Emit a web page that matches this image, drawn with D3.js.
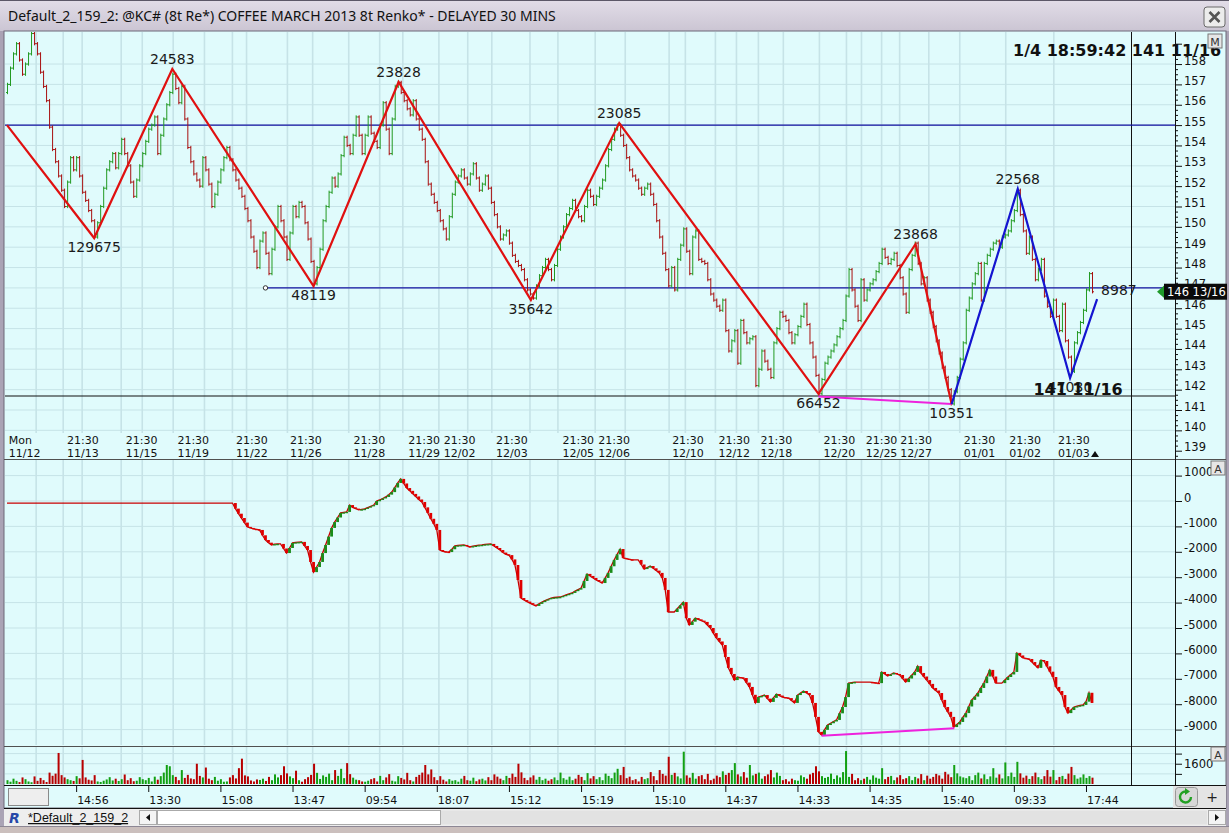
<!DOCTYPE html>
<html>
<head>
<meta charset="utf-8">
<script src="https://cdn.jsdelivr.net/npm/d3@7"></script>
<style>
body{margin:0;background:#cfc6c4;overflow:hidden;}
svg{display:block;}
</style>
</head>
<body>
<div id="chart"></div>
<script>
// ---- data ----
const closes = [
157.0,157.8,158.5,159.0,158.2,157.5,158.0,158.5,159.5,159.0,
158.5,157.6,156.9,156.2,154.9,153.8,153.2,152.5,151.8,151.0,
152.2,153.4,152.8,153.4,152.5,151.7,151.3,150.8,150.3,149.5,
150.2,151.0,151.9,152.8,153.2,153.6,152.9,153.6,154.3,153.6,
153.0,152.2,151.5,152.3,153.0,153.6,154.2,154.8,155.0,155.4,
153.6,154.5,155.3,156.0,156.6,157.5,156.8,156.1,156.9,155.3,
153.9,153.2,152.6,152.3,152.0,153.4,152.8,152.1,151.0,151.6,
152.2,152.8,153.4,153.9,153.3,152.8,152.3,151.9,151.5,150.9,
150.3,149.5,148.8,148.0,149.3,149.7,148.7,147.7,148.9,150.0,
151.0,150.3,149.5,148.4,149.7,151.0,150.5,151.2,151.0,150.2,
149.4,148.3,147.2,148.0,148.9,150.3,151.0,151.7,152.4,152.0,
152.6,153.5,154.4,154.0,153.6,154.5,155.4,154.5,153.6,154.5,
155.4,154.6,154.2,153.9,155.0,156.1,154.8,153.6,155.3,156.9,
157.1,156.6,156.2,155.8,155.5,156.2,155.3,154.8,154.3,153.2,
152.1,151.6,151.2,150.8,150.3,149.9,149.4,150.5,151.6,152.2,
152.5,152.8,152.4,152.1,152.6,153.1,152.4,151.8,152.1,152.5,
151.9,151.2,150.6,150.0,149.4,149.6,149.8,149.2,148.6,148.3,
148.1,147.9,147.4,146.9,146.7,146.5,147.1,147.6,148.0,148.4,
147.9,147.4,148.1,148.9,149.5,150.0,150.6,150.9,151.3,150.8,
150.5,150.3,151.0,151.8,151.5,151.1,151.5,151.9,152.3,153.0,
153.8,154.3,154.8,155.0,154.5,154.0,153.4,152.8,152.5,152.3,
151.9,151.6,151.9,152.1,151.6,151.1,150.3,149.5,148.7,147.9,
147.1,148.0,146.9,148.4,149.1,149.9,148.8,147.7,149.5,149.8,
148.4,148.3,148.2,147.4,146.7,146.4,146.1,145.9,146.4,144.9,
143.9,144.4,144.9,143.3,145.4,144.8,144.3,144.5,144.6,142.2,
143.0,143.9,143.4,143.0,142.6,144.3,145.0,145.8,145.6,145.4,
144.8,144.3,144.7,145.1,145.6,146.2,145.2,144.3,143.6,142.7,
141.8,142.5,143.3,143.6,143.9,144.2,144.6,145.0,145.4,146.6,
147.9,146.9,146.1,145.4,147.4,146.4,146.9,147.2,147.4,147.8,
148.2,148.9,148.5,148.2,148.4,148.7,148.1,147.5,146.7,145.8,
147.9,148.6,149.2,148.2,147.2,147.5,146.4,145.8,145.1,144.4,
143.8,143.1,142.6,142.0,141.3,141.9,142.6,143.5,144.3,145.9,
146.5,147.2,147.7,148.2,146.4,148.2,148.6,148.9,149.2,149.3,
149.0,149.5,149.6,149.8,150.3,150.8,151.8,150.6,149.8,148.7,
149.5,148.4,147.4,147.9,148.4,146.6,146.1,145.6,146.4,145.6,
144.9,146.2,144.4,143.6,142.9,144.3,144.8,145.3,145.9,146.9,
147.7,146.81
];

const delta = [
-80,-80,-80,-80,-80,-80,-80,-80,-80,-80,
-80,-80,-80,-80,-80,-80,-80,-80,-80,-80,
-80,-80,-80,-80,-80,-80,-80,-80,-80,-80,
-80,-80,-80,-80,-80,-80,-80,-80,-80,-80,
-80,-80,-80,-80,-80,-80,-80,-80,-80,-80,
-80,-80,-80,-80,-80,-80,-80,-80,-80,-80,
-80,-80,-80,-80,-80,-80,-80,-80,-80,-80,
-80,-80,-80,-80,-80,-80,-300,-500,-670,-850,
-1020,-1060,-1100,-1120,-1140,-1350,-1535,-1640,-1730,-1700,
-1690,-1690,-1870,-2050,-1850,-1650,-1630,-1620,-1610,-1770,
-1930,-2400,-2800,-2600,-2400,-2050,-1730,-1400,-1060,-830,
-650,-470,-450,-430,-160,-250,-300,-350,-330,-310,
-260,-210,-160,0,40,100,160,250,350,530,
710,870,690,510,400,280,180,60,-40,-250,
-470,-700,-900,-1140,-1930,-1980,-2000,-2010,-1900,-1770,
-1750,-1740,-1730,-1770,-1810,-1780,-1760,-1740,-1730,-1710,
-1700,-1690,-1770,-1850,-1930,-2030,-2100,-2130,-2300,-2520,
-3110,-3820,-3900,-3960,-4020,-4080,-4130,-4050,-3980,-3920,
-3870,-3820,-3800,-3790,-3780,-3740,-3700,-3660,-3620,-3550,
-3490,-3430,-3150,-2870,-2950,-3030,-3110,-3170,-3230,-3030,
-2830,-2570,-2320,-2100,-1890,-2240,-2270,-2300,-2320,-2320,
-2320,-2500,-2680,-2620,-2560,-2650,-2740,-2830,-3030,-3500,
-4370,-4370,-4370,-4240,-4110,-3980,-4610,-4880,-4750,-4610,
-4660,-4710,-4760,-4880,-5000,-5200,-5390,-5530,-5670,-6140,
-6570,-6810,-7050,-6930,-6950,-6970,-7150,-7320,-7630,-7950,
-7720,-7680,-7640,-7780,-7910,-7750,-7600,-7660,-7720,-7740,
-7760,-7850,-7950,-7640,-7560,-7480,-7560,-7640,-7950,-8500,
-9090,-9210,-9010,-8820,-8750,-8680,-8620,-8360,-8110,-7720,
-7170,-7150,-7130,-7130,-7130,-7130,-7130,-7130,-7140,-7160,
-7170,-6730,-6810,-6890,-6830,-6770,-6810,-6850,-6990,-7130,
-6990,-6860,-6730,-6500,-6770,-6910,-7050,-7200,-7360,-7460,
-7560,-7830,-8110,-8300,-8500,-8900,-8800,-8700,-8520,-8350,
-8090,-7830,-7700,-7560,-7360,-7170,-6910,-6650,-6910,-7170,
-7170,-7170,-7050,-6930,-6830,-6730,-5980,-6080,-6180,-6200,
-6220,-6340,-6460,-6570,-6260,-6300,-6510,-6720,-6930,-7320,
-7480,-7640,-8110,-8350,-8230,-8110,-8080,-8050,-8030,-7900,
-7550,-7950
];

const volume = [
300,180,420,250,150,520,380,200,140,600,
250,480,300,160,900,650,820,2450,700,520,
380,300,240,620,450,1900,520,340,280,700,
200,160,260,360,540,280,420,240,380,750,
300,460,220,260,540,380,300,480,200,580,
340,620,900,1500,1400,700,560,300,1100,480,
720,440,380,1600,640,520,1300,420,300,560,
260,380,180,200,520,700,440,1250,2000,680,
600,280,200,360,320,420,240,560,300,760,
520,700,1400,840,600,460,1050,300,180,380,
540,720,1600,880,400,680,560,820,300,1100,
640,1200,460,1650,780,500,340,300,200,180,
260,380,460,200,640,300,520,780,260,200,
620,480,360,880,300,200,560,720,900,1500,
760,1150,540,300,620,340,200,380,260,300,
180,420,640,300,260,500,220,360,420,280,
540,300,760,580,420,300,640,480,820,560,
1600,920,480,300,520,680,340,560,300,420,
260,380,520,300,900,460,340,580,300,420,
720,560,300,860,440,620,380,540,300,820,
640,460,900,1200,700,1350,460,580,300,380,
200,560,380,460,940,620,300,1100,800,660,
2150,720,880,600,440,2550,680,500,880,420,
620,700,380,800,300,420,660,540,1000,720,
880,1100,1650,760,600,940,500,1500,680,800,
900,420,620,760,1100,520,900,640,300,380,
200,420,300,260,680,540,420,760,880,1400,
1000,620,480,560,820,400,680,520,940,2600,
560,800,300,460,300,420,560,340,680,500,
420,1250,380,560,640,300,520,700,380,460,
620,300,560,440,780,300,660,420,560,800,
680,420,960,760,540,1500,840,600,520,460,
620,300,700,900,440,760,380,600,1250,500,
760,440,1700,620,900,560,1750,840,500,660,
400,620,900,540,380,620,1100,580,1100,300,
560,640,400,820,1350,700,420,520,760,480,
620,500
];

// swing lines (bar index, price, label)
const zigIdx   = [0, 29, 55, 102, 130.3, 174.3, 203.7, 270, 302.3, 314.3];
const zigPrice = [155.0, 149.45, 157.76, 147.09, 157.12, 146.41, 155.10, 141.79, 149.16, 141.29];
const zigText  = ["", "129675", "24583", "48119", "23828", "35642", "23085", "66452", "23868", "10351"];
const blueIdx   = [314.3, 336.3, 353.7, 362.7];
const bluePrice = [141.29, 151.86, 142.57, 146.45];
const blueText  = ["", "22568", "47030", "8987"];

// divergence lines
const divPriceIdx = [270, 314.3];
const divPrice    = [141.66, 141.29];
const divDeltaIdx = [271, 315.2];
const divDelta    = [-9240, -8950];

// horizontal levels
const levelTop = 155.0;
const levelMid = 147.0;
const levelMidStart = 86;
const levelLow = 141 + 11 / 16;
const lastPrice = 146 + 13 / 16;

// axes
const priceTicks = [139,140,141,142,143,144,145,146,147,148,149,150,151,152,153,154,155,156,157,158];
const deltaTicks = [1000,0,-1000,-2000,-3000,-4000,-5000,-6000,-7000,-8000,-9000];
const volumeTicks = [800, 1600, 2400];
const volumeLabels = [1600];

const dateIdx = [0.6, 20, 39.5, 56.7, 76.2, 94.2, 115.3, 133.5, 145.3, 162.7, 184.8, 196.7,
                 221.3, 236.7, 250.7, 271.7, 285.7, 297.2, 318.3, 333.5, 349.7];
const dateTop = ["Mon","21:30","21:30","21:30","21:30","21:30","21:30","21:30","21:30","21:30","21:30","21:30",
                 "21:30","21:30","21:30","21:30","21:30","21:30","21:30","21:30","21:30"];
const dateBottom = ["11/12","11/13","11/15","11/19","11/22","11/26","11/28","11/29","12/02","12/03","12/05","12/06",
                    "12/10","12/12","12/18","12/20","12/25","12/27","01/01","01/02","01/03"];

const timeIdx = [23,47,71,95,119,143,167,191,215,239,263,287,311,335,359];
const timeText = ["14:56","13:30","15:08","13:47","09:54","18:07","15:12","15:19","15:10","14:37","14:33","14:35","15:40","09:33","17:44"];

const gridIdx = [9.7,18.7,25,38,45,55.3,65.7,75,79.7,93.3,101.7,113.7,124,131.7,143.7,153.3,161.3,174,183.3,
                 195.7,205.7,220.3,225.7,235.7,242.7,250,258.3,270.3,279.3,284.3,291,297,306.7,317,332.3,348.3];

const titleText = "Default_2_159_2: @KC# (8t Re*) COFFEE MARCH 2013 8t Renko* - DELAYED 30 MINS";
const clockText = "1/4 18:59:42 141 11/16";

class RenkoChart {
	constructor(id){
		this.W = 1229;
		this.H = 833;
		this.bg = "#e0fbfc";
		this.grid = "#c6e3e7";
		this.up = "#229a22";
		this.down = "#a81010";
		this.font = "'DejaVu Sans', sans-serif";

		this.svg = d3.select("#" + id).append("svg")
			.attr("width", this.W).attr("height", this.H);

		this.axisX = 1175;
		this.x = d3.scaleLinear().domain([0, 361]).range([7, 1092]);
		this.yP = d3.scaleLinear().domain([141, 158]).range([410, 64.05]);
		this.yD = d3.scaleLinear().domain([0, -9000]).range([501, 729.6]);
		this.yV = d3.scaleLinear().domain([0, 3000]).range([784, 746]);

		this.drawFrame();
		this.drawGrid();
		this.drawPricePanel();
		this.drawDeltaPanel();
		this.drawVolumePanel();
		this.drawAxes();
		this.drawStatus();
	}

	drawFrame(){
		const defs = this.svg.append("defs");
		const tg = defs.append("linearGradient").attr("id", "tg").attr("x1", 0).attr("y1", 0).attr("x2", 0).attr("y2", 1);
		tg.append("stop").attr("offset", "0%").attr("stop-color", "#e2dde8");
		tg.append("stop").attr("offset", "100%").attr("stop-color", "#cbc5d3");

		defs.append("clipPath").attr("id", "clipP").append("rect")
			.attr("x", 5).attr("y", 32).attr("width", this.axisX - 5).attr("height", 427);
		defs.append("clipPath").attr("id", "clipD").append("rect")
			.attr("x", 5).attr("y", 460).attr("width", this.axisX - 5).attr("height", 285);

		this.svg.append("rect").attr("width", this.W).attr("height", 828).attr("fill", "#aaa3b5");
		this.svg.append("rect").attr("x", 0).attr("y", 0).attr("width", this.W).attr("height", 31).attr("fill", "url(#tg)");
		this.svg.append("line").attr("x1", 0).attr("x2", this.W).attr("y1", 0.5).attr("y2", 0.5).attr("stroke", "#5c5868");

		this.svg.append("text")
			.attr("x", 8).attr("y", 21)
			.style("font-family", "'Noto Sans', sans-serif").style("font-size", "14px").attr("fill", "#111")
			.text(titleText);

		// close button
		const cb = this.svg.append("g");
		cb.append("rect").attr("x", 1204).attr("y", 7).attr("width", 21).attr("height", 20).attr("rx", 3)
			.attr("fill", "#ececec").attr("stroke", "#6a6a6a");
		cb.append("path").attr("d", "M1209.5,12 L1219.5,22 M1219.5,12 L1209.5,22")
			.attr("stroke", "#555").attr("stroke-width", 2.6);

		// chart body
		this.svg.append("rect").attr("x", 4).attr("y", 31).attr("width", 1222).attr("height", 777)
			.attr("fill", this.bg).attr("stroke", "#6d6878");
	}

	drawGrid(){
		const g = this.svg.append("g");
		const x = this.x;
		// vertical grid in three bands
		[[32, 433], [460, 745], [747, 784]].forEach(([a, b]) => {
			g.selectAll(null).data(gridIdx).join("line")
				.attr("x1", d => x(d)).attr("x2", d => x(d))
				.attr("y1", a).attr("y2", b)
				.attr("stroke", this.grid).attr("stroke-width", 1.6);
		});
		g.selectAll(null).data(priceTicks.filter(p => p >= 140)).join("line")
			.attr("x1", 5).attr("x2", this.axisX)
			.attr("y1", d => this.yP(d)).attr("y2", d => this.yP(d))
			.attr("stroke", this.grid);
		g.selectAll(null).data(deltaTicks).join("line")
			.attr("x1", 5).attr("x2", this.axisX)
			.attr("y1", d => this.yD(d)).attr("y2", d => this.yD(d))
			.attr("stroke", this.grid);
		g.selectAll(null).data(volumeTicks).join("line")
			.attr("x1", 5).attr("x2", this.axisX)
			.attr("y1", d => this.yV(d)).attr("y2", d => this.yV(d))
			.attr("stroke", this.grid);

		// panel separators
		const sep = [[459, "#505050"], [746, "#505050"], [785, "#111"], [808, "#111"]];
		sep.forEach(([y, c]) => {
			this.svg.append("line").attr("x1", 4).attr("x2", 1226).attr("y1", y + 0.5).attr("y2", y + 0.5).attr("stroke", c);
		});
		this.svg.append("line").attr("x1", 1131.5).attr("x2", 1131.5).attr("y1", 32).attr("y2", 785).attr("stroke", "#111");
		this.svg.append("line").attr("x1", this.axisX + 0.5).attr("x2", this.axisX + 0.5).attr("y1", 32).attr("y2", 785).attr("stroke", "#111");
	}

	drawPricePanel(){
		const x = this.x, y = this.yP;
		const g = this.svg.append("g").attr("clip-path", "url(#clipP)");
		const open = i => i === 0 ? closes[0] - 0.4 : closes[i - 1];
		const col = (d, i) => d >= open(i) ? this.up : this.down;

		// levels
		g.append("line").attr("x1", 5).attr("x2", this.axisX).attr("y1", y(levelTop)).attr("y2", y(levelTop))
			.attr("stroke", "#1010a0").attr("stroke-width", 1.2);
		g.append("line").attr("x1", x(levelMidStart)).attr("x2", this.axisX).attr("y1", y(levelMid)).attr("y2", y(levelMid))
			.attr("stroke", "#1010a0").attr("stroke-width", 1.2);
		g.append("line").attr("x1", 5).attr("x2", this.axisX).attr("y1", y(levelLow)).attr("y2", y(levelLow))
			.attr("stroke", "#111").attr("stroke-width", 1.2);
		g.append("circle").attr("cx", x(levelMidStart)).attr("cy", y(levelMid)).attr("r", 2.2)
			.attr("fill", "#fff").attr("stroke", "#333");

		// renko bars
		g.selectAll("line.bar").data(closes).join("line").attr("class", "bar")
			.attr("x1", (d, i) => x(i) + 0.5).attr("x2", (d, i) => x(i) + 0.5)
			.attr("y1", (d, i) => y(Math.max(d, open(i)) + 0.08))
			.attr("y2", (d, i) => y(Math.min(d, open(i)) - 0.08))
			.attr("stroke", col);
		g.selectAll("line.op").data(closes).join("line").attr("class", "op")
			.attr("x1", (d, i) => x(i) - 1).attr("x2", (d, i) => x(i) + 0.5)
			.attr("y1", (d, i) => y(open(i))).attr("y2", (d, i) => y(open(i)))
			.attr("stroke", col);
		g.selectAll("line.cl").data(closes).join("line").attr("class", "cl")
			.attr("x1", (d, i) => x(i) + 0.5).attr("x2", (d, i) => x(i) + 2)
			.attr("y1", d => y(d)).attr("y2", d => y(d))
			.attr("stroke", col);

		// divergence
		g.append("line")
			.attr("x1", x(divPriceIdx[0])).attr("y1", y(divPrice[0]))
			.attr("x2", x(divPriceIdx[1])).attr("y2", y(divPrice[1]))
			.attr("stroke", "#ee22dd").attr("stroke-width", 2);

		// swing lines
		const line = d3.line().x(d => x(d[0])).y(d => y(d[1]));
		g.append("path").datum(zigIdx.map((d, i) => [d, zigPrice[i]]))
			.attr("d", line).attr("fill", "none").attr("stroke", "#e01010").attr("stroke-width", 2.2);
		g.append("path").datum(blueIdx.map((d, i) => [d, bluePrice[i]]))
			.attr("d", line).attr("fill", "none").attr("stroke", "#1414d0").attr("stroke-width", 2.2);

		this.swingLabels(zigIdx, zigPrice, zigText, false);
		this.swingLabels(blueIdx, bluePrice, blueText, true);

		// date labels
		const dl = this.svg.append("g").style("font-family", this.font).style("font-size", "11px").attr("fill", "#111");
		dl.selectAll(null).data(dateIdx).join("text")
			.attr("x", d => x(d)).attr("y", 444).text((d, i) => dateTop[i]);
		dl.selectAll(null).data(dateIdx).join("text")
			.attr("x", d => x(d)).attr("y", 456.5).text((d, i) => dateBottom[i]);

		// last bar marker
		const lx = x(closes.length - 1) + 3;
		this.svg.append("path").attr("d", `M${lx - 4},457 L${lx + 4},457 L${lx},451 Z`).attr("fill", "#111");

		// level label
		this.svg.append("text").attr("x", x(353.7) + 8).attr("y", y(levelLow) - 1)
			.attr("text-anchor", "middle")
			.style("font-family", this.font).style("font-size", "16px").style("font-weight", "bold")
			.attr("fill", "#111").text("141 11/16");
	}

	swingLabels(idx, price, text, openEnd){
		const x = this.x, y = this.yP;
		const g = this.svg.append("g").style("font-family", this.font).style("font-size", "14px").attr("fill", "#1a1a1a");
		idx.forEach((d, i) => {
			if (!text[i]) return;
			const prev = price[i - 1];
			const toRight = openEnd && i === idx.length - 1;
			if (toRight) {
				g.append("text").attr("x", x(d) + 4).attr("y", y(price[i]) - 4).text(text[i]);
			} else if (price[i] > prev) {
				g.append("text").attr("x", x(d)).attr("y", y(price[i]) - 5).attr("text-anchor", "middle").text(text[i]);
			} else {
				g.append("text").attr("x", x(d)).attr("y", y(price[i]) + 14).attr("text-anchor", "middle").text(text[i]);
			}
		});
	}

	drawDeltaPanel(){
		const x = this.x, y = this.yD;
		const g = this.svg.append("g").attr("clip-path", "url(#clipD)");
		const line = d3.line().x((d, i) => x(i)).y(d => y(d));
		g.append("path").datum(delta).attr("d", line)
			.attr("fill", "none").attr("stroke", "#c80000").attr("stroke-width", 1.3);
		const moves = delta.map((d, i) => ({i: i, a: i ? delta[i - 1] : d, b: d})).filter(m => m.a !== m.b);
		g.selectAll("rect.dc").data(moves).join("rect").attr("class", "dc")
			.attr("x", m => x(m.i) - 1.4).attr("width", 2.8)
			.attr("y", m => Math.min(y(m.a), y(m.b)))
			.attr("height", m => Math.max(1.3, Math.abs(y(m.a) - y(m.b))))
			.attr("fill", m => m.b > m.a ? "#1a8c1a" : "#e00000");
		g.append("line")
			.attr("x1", x(divDeltaIdx[0])).attr("y1", y(divDelta[0]))
			.attr("x2", x(divDeltaIdx[1])).attr("y2", y(divDelta[1]))
			.attr("stroke", "#ee22dd").attr("stroke-width", 2);
	}

	drawVolumePanel(){
		const x = this.x, y = this.yV;
		const open = i => i === 0 ? closes[0] - 0.4 : closes[i - 1];
		this.svg.append("g").selectAll("rect").data(volume).join("rect")
			.attr("x", (d, i) => x(i) - 0.5).attr("width", 2)
			.attr("y", d => y(d)).attr("height", d => y(0) - y(d))
			.attr("fill", (d, i) => closes[i] >= open(i) ? "#12a012" : "#b80000");
	}

	drawAxes(){
		const ax = this.axisX;
		const g = this.svg.append("g").style("font-family", this.font).style("font-size", "11.5px").attr("fill", "#111");
		// price axis
		g.selectAll(null).data(d3.range(138.75, 159.01, 0.25)).join("line")
			.attr("x1", ax).attr("x2", d => ax + (Number.isInteger(d) ? 7 : 3))
			.attr("y1", d => this.yP(d) + 0.5).attr("y2", d => this.yP(d) + 0.5)
			.attr("stroke", "#111");
		g.selectAll(null).data(priceTicks).join("text")
			.attr("x", ax + 9).attr("y", d => this.yP(d) + 0.5).text(d => d);
		// delta axis
		g.selectAll(null).data(deltaTicks).join("line")
			.attr("x1", ax).attr("x2", ax + 7)
			.attr("y1", d => this.yD(d) + 0.5).attr("y2", d => this.yD(d) + 0.5).attr("stroke", "#111");
		g.selectAll(null).data(deltaTicks).join("text")
			.attr("x", ax + 9).attr("y", d => this.yD(d) + 0.5).text(d => d);
		// volume axis
		g.selectAll(null).data(volumeTicks).join("line")
			.attr("x1", ax).attr("x2", ax + 7)
			.attr("y1", d => this.yV(d) + 0.5).attr("y2", d => this.yV(d) + 0.5).attr("stroke", "#111");
		g.selectAll(null).data(volumeLabels).join("text")
			.attr("x", ax + 9).attr("y", d => this.yV(d) + 4).text(d => d);

		// price tag
		const ty = this.yP(lastPrice);
		this.svg.append("path").attr("d", `M1157,${ty} L1165,${ty - 7} L1165,${ty + 7} Z`).attr("fill", "#1f9a2a");
		this.svg.append("rect").attr("x", 1164).attr("y", ty - 8).attr("width", 63).attr("height", 16).attr("fill", "#0a0a0a");
		this.svg.append("text").attr("x", 1167).attr("y", ty + 4.5)
			.style("font-family", this.font).style("font-size", "11.5px").attr("fill", "#fff").text("146 13/16");

		// clock text
		this.svg.append("text").attr("x", 1013).attr("y", 56)
			.style("font-family", this.font).style("font-size", "16px").style("font-weight", "bold")
			.attr("fill", "#111").text(clockText);

		// small panel buttons
		[[1208, 34, "M"], [1211, 461, "A"], [1211, 747, "A"]].forEach(([bx, by, t]) => {
			this.svg.append("rect").attr("x", bx).attr("y", by).attr("width", 14).attr("height", 14)
				.attr("fill", "#e6e6e6").attr("stroke", "#777");
			this.svg.append("text").attr("x", bx + 7).attr("y", by + 11.5).attr("text-anchor", "middle")
				.style("font-family", this.font).style("font-size", "11px").attr("fill", "#333").text(t);
		});

		// bottom time axis
		const tg = this.svg.append("g").style("font-family", this.font).style("font-size", "11px").attr("fill", "#111");
		tg.selectAll(null).data(timeIdx).join("line")
			.attr("x1", d => this.x(d) + 0.5).attr("x2", d => this.x(d) + 0.5)
			.attr("y1", 786).attr("y2", 792).attr("stroke", "#111");
		tg.selectAll(null).data(timeIdx).join("text")
			.attr("x", d => this.x(d) + 1).attr("y", 804).text((d, i) => timeText[i]);
		this.svg.append("rect").attr("x", 8.5).attr("y", 788.5).attr("width", 40).attr("height", 17)
			.attr("fill", "#eeeeee").attr("stroke", "#8a8a8a");
	}

	drawStatus(){
		// right-bottom buttons
		this.svg.append("rect").attr("x", 1173).attr("y", 786).attr("width", 53).attr("height", 22).attr("fill", "#e4e4e4");
		this.svg.append("rect").attr("x", 1175.5).attr("y", 787.5).attr("width", 22).attr("height", 19).attr("rx", 3)
			.attr("fill", "#d8d8d8").attr("stroke", "#999");
		this.svg.append("path").attr("d", "M1191,797 A5.5,5.5 0 1 1 1186,791.5")
			.attr("fill", "none").attr("stroke", "#24a024").attr("stroke-width", 2.4);
		this.svg.append("path").attr("d", "M1185,788 L1190,791.5 L1185,795 Z").attr("fill", "#24a024");
		this.svg.append("text").attr("x", 1212).attr("y", 802).attr("text-anchor", "middle")
			.style("font-family", this.font).style("font-size", "14px").attr("fill", "#222").text("+");

		// tab / scrollbar row
		this.svg.append("rect").attr("x", 4).attr("y", 809).attr("width", 1222).attr("height", 17).attr("fill", "#eeeeee");
		this.svg.append("rect").attr("x", 0).attr("y", 826).attr("width", this.W).attr("height", 7).attr("fill", "#cbbfbd");
		this.svg.append("line").attr("x1", 0).attr("x2", this.W).attr("y1", 826.5).attr("y2", 826.5).attr("stroke", "#8d8795");
		this.svg.append("text").attr("x", 9).attr("y", 823)
			.style("font-family", this.font).style("font-size", "14px").style("font-weight", "bold").style("font-style", "italic")
			.attr("fill", "#2647a8").text("R");
		this.svg.append("text").attr("x", 28).attr("y", 822)
			.style("font-family", "'Liberation Sans', sans-serif").style("font-size", "12.5px")
			.style("text-decoration", "underline").attr("fill", "#111").text("*Default_2_159_2");
		this.svg.append("rect").attr("x", 139.5).attr("y", 810.5).attr("width", 17).attr("height", 14).attr("fill", "#f4f4f4").attr("stroke", "#aaa");
		this.svg.append("path").attr("d", "M150,814 L146,817.5 L150,821 Z").attr("fill", "#111");
		this.svg.append("rect").attr("x", 157.5).attr("y", 810.5).attr("width", 283).attr("height", 14).attr("fill", "#ffffff").attr("stroke", "#aaa");
		this.svg.append("rect").attr("x", 441).attr("y", 810.5).attr("width", 766).attr("height", 14).attr("fill", "#e2e2e2");
		this.svg.append("rect").attr("x", 1208.5).attr("y", 810.5).attr("width", 17).attr("height", 14).attr("fill", "#f4f4f4").attr("stroke", "#aaa");
		this.svg.append("path").attr("d", "M1215,814 L1219,817.5 L1215,821 Z").attr("fill", "#111");
	}
}

new RenkoChart("chart");
</script>
</body>
</html>
